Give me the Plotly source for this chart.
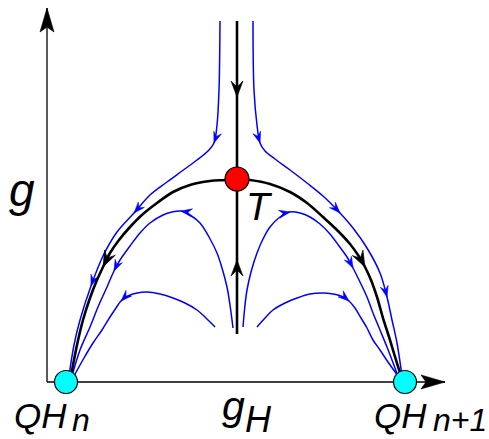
import numpy as np
import plotly.graph_objects as go

# ---- data: flow-diagram curves (x = g_H, y = g), in chart units ----
outer_left = [(220,21),(219,90),(217,125),(214,143),(208,151),(197,160),(182,171),(167,182),(150,195),(134,213),(117,232),(103,256),(91,286),(80,320),(74,345),(69,376)]
outer_left_arrows = [3, 9, 12]
outer_right = [(253,21),(254,90),(257,125),(260,143),(265,151),(275,159),(290,170),(307,183),(323,196),(340,213),(353,228),(367,248),(380,273),(387,297),(392,320),(397,343),(402,376)]
outer_right_arrows = [3, 9, 13]
inner_left_upper = [(233,328),(230,305),(227,287),(222,268),(217,253),(209,237),(200,223),(190,215),(181,211),(172,212),(163,215),(150,223),(140,233),(130,246),(120,260),(114,271),(107,287),(98,307),(90,327),(80,350),(72,376)]
inner_left_upper_arrows = [8, 15]
inner_left_lower = [(215,327),(206,318),(197,310),(185,303),(173,298),(160,294),(147,292),(137,293),(128,296),(121,301),(116,308),(110,317),(102,330),(93,343),(84,358),(74,376)]
inner_left_lower_arrows = [9]
inner_right_upper = [(243,327),(245,305),(247,290),(251,272),(257,253),(263,239),(270,227),(280,217),(290,212),(300,213),(310,217),(320,224),(330,234),(339,246),(347,257),(353,268),(360,282),(367,297),(373,313),(380,330),(387,347),(392,360),(398,376)]
inner_right_upper_arrows = [8, 15]
inner_right_lower = [(257,327),(265,318),(273,310),(285,303),(297,298),(310,294),(323,293),(333,294),(341,296),(349,301),(355,308),(361,318),(367,328),(373,340),(380,350),(388,362),(398,376)]
inner_right_lower_arrows = [9]

black_left = [(237,179),(225,180),(210,181),(190,185),(173,192),(157,203),(143,214),(130,227),(119,240),(110,253),(103,267),(97,280),(90,298),(83,320),(77,345),(71,376)]
black_left_arrows = [10]
black_right = [(237,179),(250,180),(270,184),(290,192),(307,203),(323,217),(337,230),(350,244),(358,255),(365,267),(371,280),(377,297),(383,318),(390,340),(396,360),(401,376)]
black_right_arrows = [9]
black_top = [(237,21),(237,97),(237,179)]
black_top_arrows = [1]
black_bottom = [(237,334),(237,260),(237,179)]
black_bottom_arrows = [1]

axis_g = [(47,382),(47,8)]
axis_gH = [(47,382),(445,382)]

fixed_QH = [(66,382),(405,382)]
fixed_T = [(237,179)]

labels = [
    # text, x, y, size
    ("<i>g</i>", 22, 190, 46),
    ("<i>T</i>", 259, 206, 39),
    ("<i>QH</i>", 40, 415, 35),
    ("<i>n</i>", 81, 420, 32),
    ("<i>g</i>", 233, 406, 41),
    ("<i>H</i>", 258, 419, 36),
    ("<i>QH</i>", 400, 415, 35),
    ("<i>n+1</i>", 460, 420, 32),
]

BLUE = "#0000ff"
BLACK = "#000000"


def stealth(tip, d, L, W, N):
    d = np.asarray(d, float)
    d = d / np.linalg.norm(d)
    p = np.array([-d[1], d[0]])
    tip = np.asarray(tip, float)
    base = tip - L * d
    w1 = base + W / 2 * p
    w2 = base - W / 2 * p
    notch = tip - (L - N) * d
    pts = [tip, w1, notch, w2, tip]
    return [q[0] for q in pts], [q[1] for q in pts]


def arrow_at(curve, i, L, W, N):
    if i == len(curve) - 1:
        a, b = curve[i - 1], curve[i]
    else:
        a, b = curve[i - 1], curve[i + 1]
    d = (b[0] - a[0], b[1] - a[1])
    return stealth(curve[i], d, L, W, N)


fig = go.Figure()


def add_curve(curve, color, width, shape="spline"):
    fig.add_trace(go.Scatter(x=[p[0] for p in curve], y=[p[1] for p in curve],
                             mode="lines", line=dict(color=color, width=width, shape=shape),
                             hoverinfo="skip", showlegend=False))


def add_heads(items, color, L, W, N):
    xs, ys = [], []
    for curve, idxs in items:
        for i in idxs:
            hx, hy = arrow_at(curve, i, L, W, N)
            xs += hx + [None]
            ys += hy + [None]
    fig.add_trace(go.Scatter(x=xs, y=ys, mode="lines", fill="toself", fillcolor=color,
                             line=dict(color=color, width=0.6), hoverinfo="skip", showlegend=False))


# axes
add_curve(axis_g, BLACK, 1.3, "linear")
add_curve(axis_gH, BLACK, 1.3, "linear")
add_heads([(axis_g, [1]), (axis_gH, [1])], BLACK, 24, 14, 5)

blue_curves = [(outer_left, outer_left_arrows), (outer_right, outer_right_arrows),
               (inner_left_upper, inner_left_upper_arrows), (inner_left_lower, inner_left_lower_arrows),
               (inner_right_upper, inner_right_upper_arrows), (inner_right_lower, inner_right_lower_arrows)]
for c, _ in blue_curves:
    add_curve(c, BLUE, 1.5)
add_heads(blue_curves, BLUE, 11, 8, 4)

black_curves = [(black_left, black_left_arrows), (black_right, black_right_arrows),
                (black_top, black_top_arrows), (black_bottom, black_bottom_arrows)]
for c, _ in black_curves:
    add_curve(c, BLACK, 2.6)
add_heads(black_curves, BLACK, 16, 12, 6)

# fixed points
fig.add_trace(go.Scatter(x=[p[0] for p in fixed_QH], y=[p[1] for p in fixed_QH], mode="markers",
                         marker=dict(size=23, color="#00ffff", line=dict(color=BLACK, width=1.2)),
                         hoverinfo="skip", showlegend=False))
fig.add_trace(go.Scatter(x=[p[0] for p in fixed_T], y=[p[1] for p in fixed_T], mode="markers",
                         marker=dict(size=24, color="#ff0000", line=dict(color=BLACK, width=1.2)),
                         hoverinfo="skip", showlegend=False))

for text, x, y, size in labels:
    fig.add_annotation(x=x, y=y, xref="x", yref="y", text=text, showarrow=False,
                       xanchor="center", yanchor="middle",
                       font=dict(family="Liberation Sans, Arial, sans-serif", size=size, color=BLACK))

fig.update_layout(width=489, height=439, margin=dict(l=0, r=0, t=0, b=0),
                  paper_bgcolor="white", plot_bgcolor="white", showlegend=False)
fig.update_xaxes(range=[0, 489], visible=False, fixedrange=True)
fig.update_yaxes(range=[439, 0], visible=False, fixedrange=True)

fig.write_html("out.html")
